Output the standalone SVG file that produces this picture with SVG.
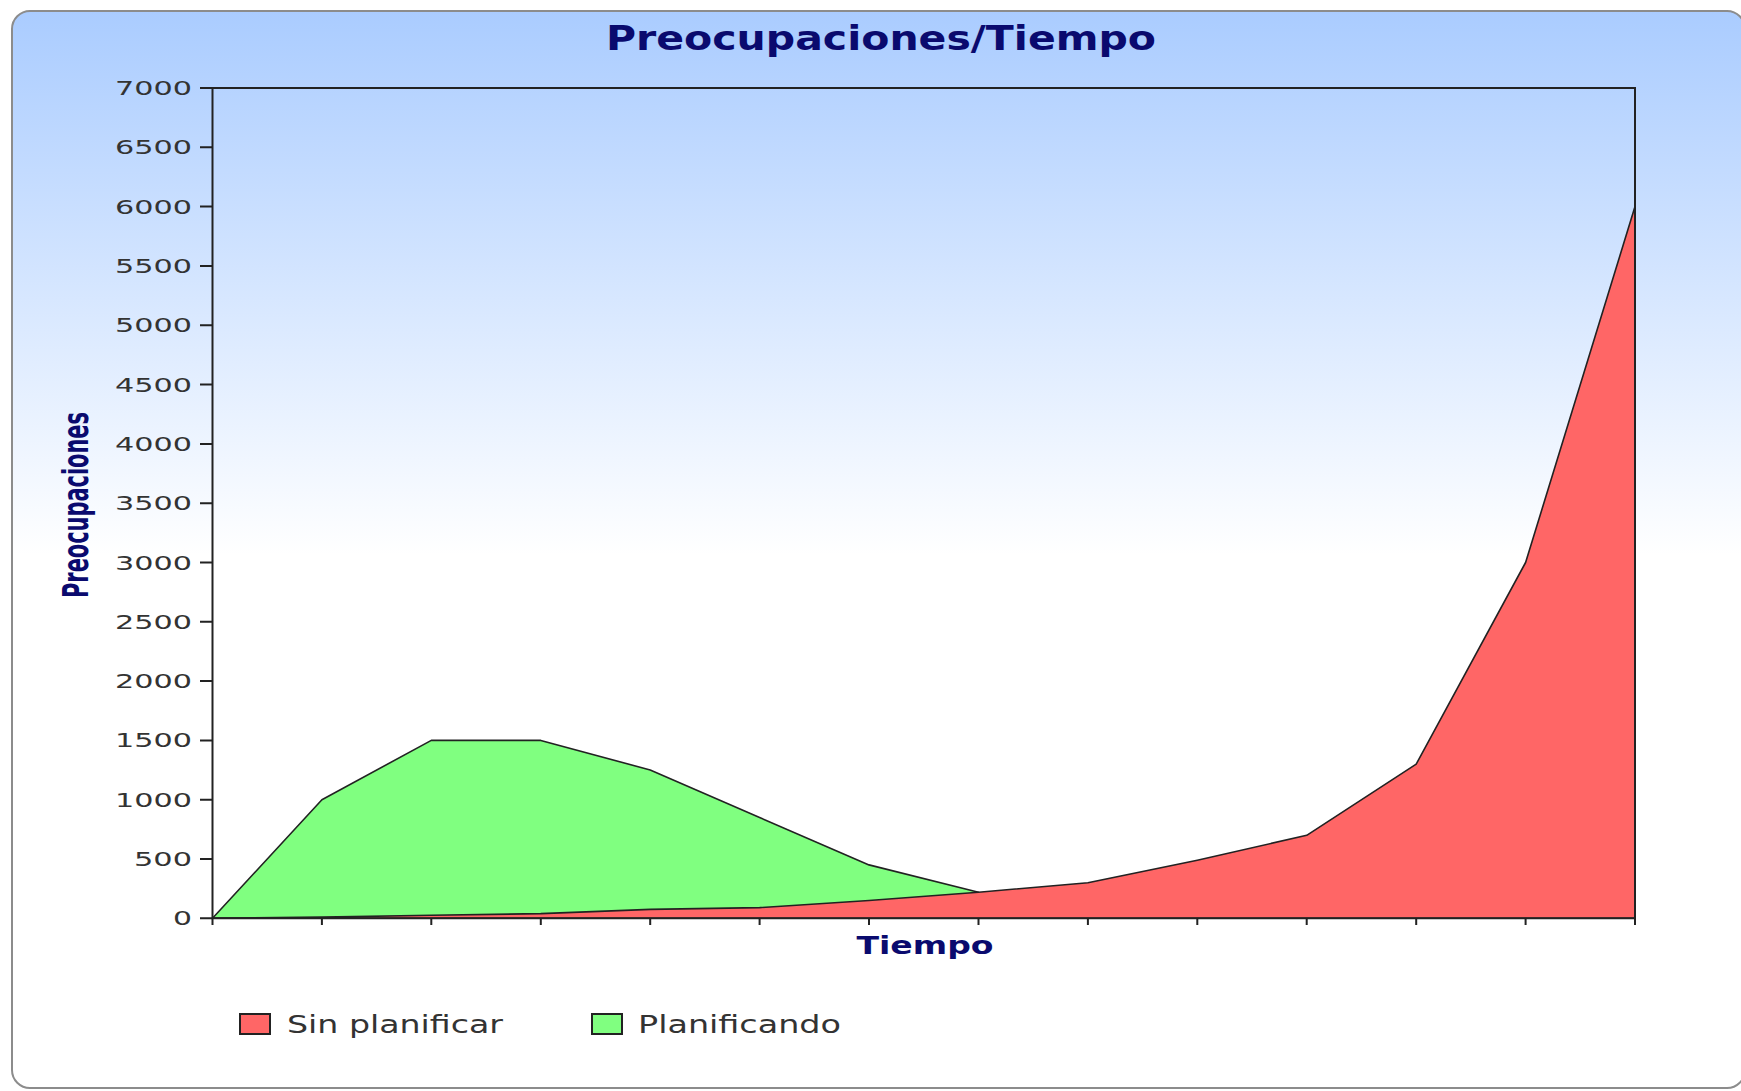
<svg xmlns="http://www.w3.org/2000/svg" width="1741" height="1091" viewBox="0 0 1741 1091">
<defs>
<linearGradient id="bg" gradientUnits="userSpaceOnUse" x1="0" y1="11" x2="0" y2="555">
<stop offset="0" stop-color="#aaccff"/>
<stop offset="1" stop-color="#ffffff"/>
</linearGradient>
<style>
.tick{font-family:"DejaVu Sans",sans-serif;font-size:19.5px;fill:#333;text-anchor:end}
.ttl{font-family:"DejaVu Sans",sans-serif;font-weight:bold;fill:#0a0a6e}
.leg{font-family:"DejaVu Sans",sans-serif;font-size:24px;fill:#333}
.ax{stroke:#222;stroke-width:2;fill:none}
.area{stroke:#222;stroke-width:1.6;stroke-linejoin:round}
</style>
</defs>
<rect id="frame" x="12" y="11" width="1733" height="1077" rx="18" fill="url(#bg)" stroke="#8c8c8c" stroke-width="2"/>
<g id="title"><text class="ttl" x="881" y="50" font-size="33" text-anchor="middle" textLength="550" lengthAdjust="spacingAndGlyphs">Preocupaciones/Tiempo</text></g>
<g id="series">
<polygon id="planificando" class="area" fill="#80ff80" points="212.5,918.3 321.9,799.7 431.3,740.4 540.8,740.4 650.2,770 759.6,817.5 869,864.9 978.5,892.2 978.5,918.3"/>
<polygon id="sin-planificar" class="area" fill="#ff6666" points="212.5,918.3 321.9,917.1 431.3,915.3 540.8,913.6 650.2,909.4 759.6,907.6 869,900.5 978.5,892.2 1087.9,882.7 1197.3,860.2 1306.7,835.3 1416.2,764.1 1525.6,562.5 1635,206.6 1635,918.3"/>
</g>
<g id="axes">
<path class="ax" d="M212.5,88 H1635 V918.3 H212.5 Z"/>
<path class="ax" d="M200,918.3H212.5M200,859H212.5M200,799.7H212.5M200,740.4H212.5M200,681.1H212.5M200,621.8H212.5M200,562.5H212.5M200,503.2H212.5M200,443.9H212.5M200,384.6H212.5M200,325.2H212.5M200,265.9H212.5M200,206.6H212.5M200,147.3H212.5M200,88H212.5"/>
<path class="ax" d="M212.5,918.3V925M321.9,918.3V925M431.3,918.3V925M540.8,918.3V925M650.2,918.3V925M759.6,918.3V925M869,918.3V925M978.5,918.3V925M1087.9,918.3V925M1197.3,918.3V925M1306.7,918.3V925M1416.2,918.3V925M1525.6,918.3V925M1635,918.3V925"/>
</g>
<g id="y-labels">
<text class="tick" x="192" y="925.3" textLength="19" lengthAdjust="spacingAndGlyphs">0</text>
<text class="tick" x="192" y="866" textLength="58" lengthAdjust="spacingAndGlyphs">500</text>
<text class="tick" x="192" y="806.7" textLength="77" lengthAdjust="spacingAndGlyphs">1000</text>
<text class="tick" x="192" y="747.4" textLength="77" lengthAdjust="spacingAndGlyphs">1500</text>
<text class="tick" x="192" y="688.1" textLength="77" lengthAdjust="spacingAndGlyphs">2000</text>
<text class="tick" x="192" y="628.8" textLength="77" lengthAdjust="spacingAndGlyphs">2500</text>
<text class="tick" x="192" y="569.5" textLength="77" lengthAdjust="spacingAndGlyphs">3000</text>
<text class="tick" x="192" y="510.2" textLength="77" lengthAdjust="spacingAndGlyphs">3500</text>
<text class="tick" x="192" y="450.9" textLength="77" lengthAdjust="spacingAndGlyphs">4000</text>
<text class="tick" x="192" y="391.6" textLength="77" lengthAdjust="spacingAndGlyphs">4500</text>
<text class="tick" x="192" y="332.2" textLength="77" lengthAdjust="spacingAndGlyphs">5000</text>
<text class="tick" x="192" y="272.9" textLength="77" lengthAdjust="spacingAndGlyphs">5500</text>
<text class="tick" x="192" y="213.6" textLength="77" lengthAdjust="spacingAndGlyphs">6000</text>
<text class="tick" x="192" y="154.3" textLength="77" lengthAdjust="spacingAndGlyphs">6500</text>
<text class="tick" x="192" y="95" textLength="77" lengthAdjust="spacingAndGlyphs">7000</text>
</g>
<g id="axis-titles">
<text class="ttl" x="925" y="954" font-size="24" text-anchor="middle" textLength="137" lengthAdjust="spacingAndGlyphs">Tiempo</text>
<text class="ttl" transform="translate(88,505) rotate(-90)" font-size="36" text-anchor="middle" textLength="186" lengthAdjust="spacingAndGlyphs">Preocupaciones</text>
</g>
<g id="legend">
<rect x="240" y="1014" width="30" height="20" fill="#ff6666" stroke="#222" stroke-width="2"/>
<text class="leg" x="287" y="1033" textLength="216" lengthAdjust="spacingAndGlyphs">Sin planificar</text>
<rect x="592" y="1014" width="30" height="20" fill="#80ff80" stroke="#222" stroke-width="2"/>
<text class="leg" x="638" y="1033" textLength="203" lengthAdjust="spacingAndGlyphs">Planificando</text>
</g>
</svg>
